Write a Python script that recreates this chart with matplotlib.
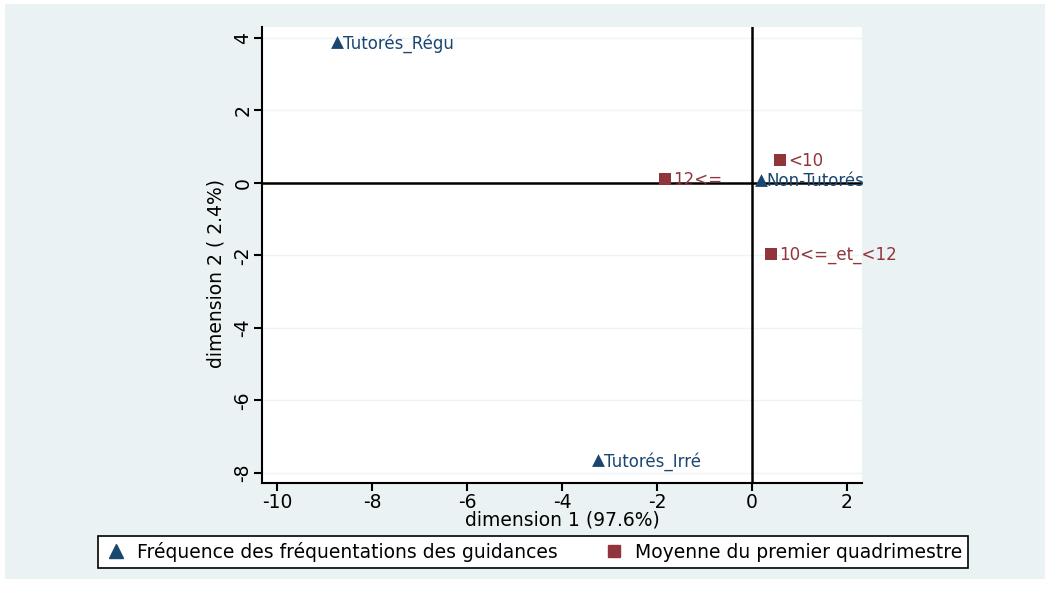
import matplotlib
matplotlib.use("Agg")
import matplotlib.pyplot as plt
from matplotlib.patches import Rectangle
from matplotlib.lines import Line2D

# row points (fréquentation des guidances)
row_labels = ["Tutorés_Régu", "Tutorés_Irré", "Non-Tutorés"]
row_x = [-8.74, -3.24, 0.19]
row_y = [3.89, -7.64, 0.08]

# column points (moyenne du premier quadrimestre)
col_labels = ["<10", "12<=", "10<=_et_<12"]
col_x = [0.59, -1.83, 0.40]
col_y = [0.63, 0.11, -1.96]

xticks = [-10, -8, -6, -4, -2, 0, 2]
yticks = [-8, -6, -4, -2, 0, 2, 4]

navy = "#1a476f"
maroon = "#90353b"
bg = "#eaf2f3"

plt.rcParams['font.family'] = ['DejaVu Sans']
plt.rcParams['axes.unicode_minus'] = False

fig = plt.figure(figsize=(10.5, 5.89), dpi=100, facecolor="white")
fig.patches.append(Rectangle((5 / 1050, 10 / 589), 1040 / 1050, 575 / 589,
                             transform=fig.transFigure, facecolor=bg,
                             edgecolor="none", zorder=-10))

ax = fig.add_axes([262 / 1050, 1 - 483 / 589, 600 / 1050, 456 / 589])
ax.set_facecolor("white")
ax.set_xlim(-10.32, 2.32)
ax.set_ylim(-8.28, 4.30)

for t in yticks:
    ax.axhline(t, color="#eef4f5", lw=1.0, zorder=0)
ax.axhline(0, color="black", lw=1.8, zorder=1)
ax.axvline(0, color="black", lw=1.8, zorder=1)

ax.scatter(row_x, row_y, marker="^", s=85, color=navy, zorder=3, linewidths=0)
ax.scatter(col_x, col_y, marker="s", s=65, color=maroon, zorder=3, linewidths=0)
for lab, x, y in zip(row_labels, row_x, row_y):
    ax.annotate(lab, (x, y), xytext=(4, -1), textcoords="offset points",
                va="center", ha="left", color=navy, fontsize=12, zorder=4)
for lab, x, y in zip(col_labels, col_x, col_y):
    ax.annotate(lab, (x, y), xytext=(6, -1), textcoords="offset points",
                va="center", ha="left", color=maroon, fontsize=12, zorder=4)

ax.spines["top"].set_visible(False)
ax.spines["right"].set_visible(False)
ax.spines["left"].set_linewidth(1.5)
ax.spines["bottom"].set_linewidth(1.5)
ax.set_xticks(xticks)
ax.set_yticks(yticks)
ax.tick_params(axis="both", length=6, width=1.5, labelsize=13.5, pad=1)
for lbl in ax.get_yticklabels():
    lbl.set_rotation(90)
    lbl.set_va("center")
ax.set_xlabel("dimension 1 (97.6%)", fontsize=13.5, labelpad=-1)
ax.set_ylabel("dimension 2 ( 2.4%)", fontsize=13.5)
ax.yaxis.set_label_coords(-0.06, 0.46)

handles = [
    Line2D([], [], marker="^", color=navy, ls="none", markersize=10),
    Line2D([], [], marker="s", color=maroon, ls="none", markersize=9),
]
leg = fig.legend(handles, ["Fréquence des fréquentations des guidances",
                           "Moyenne du premier quadrimestre"],
                 loc="center", bbox_to_anchor=(533 / 1050, 1 - 552 / 589),
                 ncol=2, frameon=True, fancybox=False, fontsize=13.5,
                 handletextpad=0.5, columnspacing=2.3, borderpad=0.3,
                 handlelength=1.3, framealpha=1)
leg.get_frame().set_edgecolor("black")
leg.get_frame().set_linewidth(1.2)

fig.savefig("out.png", dpi=100, facecolor=fig.get_facecolor())
